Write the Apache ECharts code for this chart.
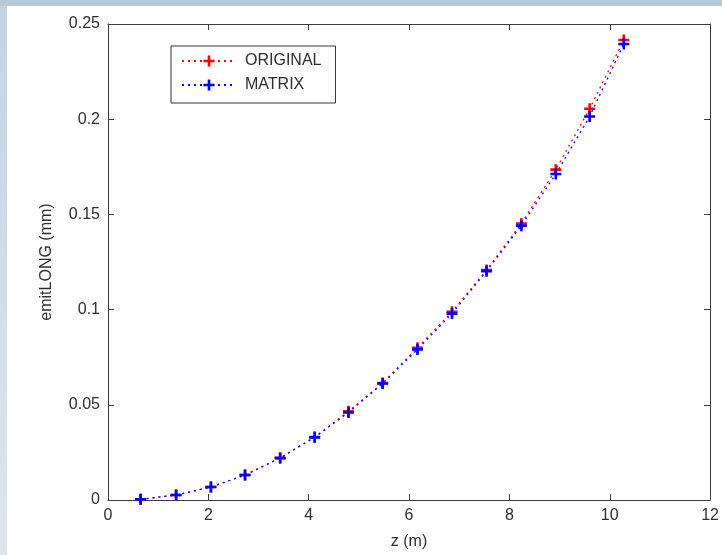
<!DOCTYPE html>
<html>
<head>
<meta charset="utf-8">
<script src="https://cdn.jsdelivr.net/npm/echarts@6/dist/echarts.min.js"></script>
<style>
  html, body { margin: 0; padding: 0; background: #ffffff; }
  #frame {
    position: relative;
    width: 722px; height: 555px;
    background:
      linear-gradient(#b7c9d8, #b7c9d8) top left / 100% 6px no-repeat,
      linear-gradient(to bottom, #c3d3e0, #dde6ee) top left / 7px 100% no-repeat,
      #ffffff;
  }
  #chart { position: absolute; left: 0; top: 0; width: 722px; height: 555px; }
</style>
</head>
<body>
<div id="frame"><div id="chart"></div></div>
<script>
// Longitudinal emittance along z for the two transport models
const zPositions = [0.649, 1.357, 2.051, 2.731, 3.431, 4.119, 4.793, 5.474, 6.168, 6.856, 7.545, 8.239, 8.925, 9.599, 10.28];
const emitOriginal = [0.0004, 0.0026, 0.0068, 0.0131, 0.0221, 0.0331, 0.0466, 0.0614, 0.0800, 0.0989, 0.1208, 0.1452, 0.1735, 0.2055, 0.2416];
const emitMatrix   = [0.0004, 0.0026, 0.0068, 0.0131, 0.0220, 0.0329, 0.0460, 0.0612, 0.0791, 0.0979, 0.1202, 0.1441, 0.1712, 0.2014, 0.2395];
const seriesNames = ['ORIGINAL', 'MATRIX'];
const xTicks = { min: 0, max: 12, interval: 2 };
const yTicks = { min: 0, max: 0.25, interval: 0.05 };

const FONT = '"Liberation Sans", Arial, Helvetica, sans-serif';
const TEXT = '#2e2e2e';
const AXIS = '#3c3c3c';
// plus-shaped marker
const PLUS = 'path://M4.2,0H6.8V4.2H11V6.8H6.8V11H4.2V6.8H0V4.2H4.2Z';

function pairs(xs, ys) { return xs.map((x, i) => [x, ys[i]]); }

const tickIn = { show: true, inside: true, length: 6, lineStyle: { color: AXIS, width: 1 } };
const labelStyle = { color: TEXT, fontSize: 16, fontFamily: FONT };

function lineSeries(name, color, values) {
  return {
    name: name,
    type: 'line',
    data: pairs(zPositions, values),
    symbol: PLUS,
    symbolSize: 11,
    showSymbol: true,
    animation: false,
    itemStyle: { color: color },
    lineStyle: { color: color, width: 1.3, type: [2, 4] },
    emphasis: { disabled: true }
  };
}

const chart = echarts.init(document.getElementById('chart'), null, { renderer: 'canvas' });
chart.setOption({
  backgroundColor: 'transparent',
  animation: false,
  grid: { left: 108, right: 9, top: 24, bottom: 54, containLabel: false },
  legend: {
    data: seriesNames,
    orient: 'vertical',
    left: 171,
    top: 46,
    itemWidth: 54,
    itemHeight: 14,
    itemGap: 8,
    padding: [7, 14, 10, 10],
    borderColor: '#333333',
    borderWidth: 1,
    backgroundColor: '#ffffff',
    textStyle: { color: TEXT, fontSize: 16, fontFamily: FONT, padding: [0, 0, 0, 4] },
    selectedMode: false
  },
  xAxis: [
    {
      type: 'value', position: 'bottom',
      min: xTicks.min, max: xTicks.max, interval: xTicks.interval,
      name: 'z (m)', nameLocation: 'middle', nameGap: 34,
      nameTextStyle: labelStyle,
      axisLine: { show: true, onZero: false, lineStyle: { color: AXIS, width: 1 } },
      axisTick: tickIn,
      axisLabel: Object.assign({ margin: 8 }, labelStyle),
      splitLine: { show: false }
    },
    {
      type: 'value', position: 'top',
      min: xTicks.min, max: xTicks.max, interval: xTicks.interval,
      axisLine: { show: true, onZero: false, lineStyle: { color: AXIS, width: 1 } },
      axisTick: tickIn,
      axisLabel: { show: false },
      splitLine: { show: false }
    }
  ],
  yAxis: [
    {
      type: 'value', position: 'left',
      min: yTicks.min, max: yTicks.max, interval: yTicks.interval,
      name: 'emitLONG (mm)', nameLocation: 'middle', nameGap: 53,
      nameTextStyle: labelStyle,
      axisLine: { show: true, onZero: false, lineStyle: { color: AXIS, width: 1 } },
      axisTick: tickIn,
      axisLabel: Object.assign({ margin: 8 }, labelStyle),
      splitLine: { show: false }
    },
    {
      type: 'value', position: 'right',
      min: yTicks.min, max: yTicks.max, interval: yTicks.interval,
      axisLine: { show: true, onZero: false, lineStyle: { color: AXIS, width: 1 } },
      axisTick: tickIn,
      axisLabel: { show: false },
      splitLine: { show: false }
    }
  ],
  series: [
    lineSeries(seriesNames[0], '#ff0000', emitOriginal),
    lineSeries(seriesNames[1], '#0000ff', emitMatrix)
  ]
});
</script>
</body>
</html>
